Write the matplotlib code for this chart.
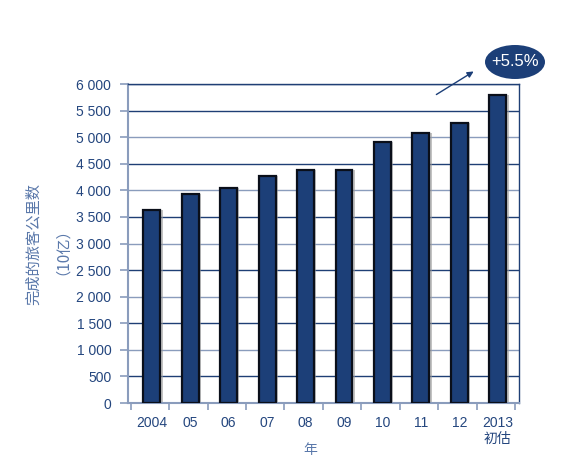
import matplotlib
matplotlib.use("Agg")
import matplotlib.pyplot as plt
from matplotlib.patches import Ellipse
import numpy as np

plt.rcParams['font.family'] = ['Liberation Sans', 'Noto Sans CJK SC', 'DejaVu Sans']

years = ["2004", "05", "06", "07", "08", "09", "10", "11", "12", "2013\n初估"]
values = [3640, 3930, 4040, 4280, 4390, 4380, 4910, 5080, 5260, 5800]
yticks = [0, 500, 1000, 1500, 2000, 2500, 3000, 3500, 4000, 4500, 5000, 5500, 6000]
ylabels = ["0", "500", "1 000", "1 500", "2 000", "2 500", "3 000", "3 500",
           "4 000", "4 500", "5 000", "5 500", "6 000"]
growth_label = "+5.5%"
ylabel = "完成的旅客公里数\n（10亿）"
xlabel = "年"

navy = "#1c3f78"
text_c = "#24467e"
axis_c = "#8a9cbc"

fig = plt.figure(figsize=(5.69, 4.57), dpi=100)
ax = fig.add_axes([0.225, 0.118, 0.687, 0.698])

x = np.arange(len(years))
# shadow
ax.bar(x + 0.06, values, width=0.44, color="#9a9a9a", alpha=0.6, zorder=2, linewidth=0)
ax.bar(x, values, width=0.44, color=navy, edgecolor="#0a0f1a", linewidth=1.6, zorder=3)

ax.set_ylim(0, 6000)
ax.set_xlim(-0.62, 9.55)
ax.set_yticks(yticks)
ax.set_yticklabels(ylabels)
for i, t in enumerate(yticks):
    if t == 0:
        continue
    col = "#1f3f75" if (t // 500) % 2 == 1 or t == 6000 else "#8a9cbc"
    ax.axhline(t, color=col, lw=1.0, zorder=1)

ax.set_xticks(x)
ax.set_xticklabels(years)
ax.set_xticks(np.arange(-0.55, 9.6, 1.0), minor=True)
ax.tick_params(axis='x', which='major', length=0, pad=9, labelsize=10, labelcolor=text_c)
ax.tick_params(axis='x', which='minor', length=5, color=axis_c, width=1.2, direction='out')
ax.tick_params(axis='y', length=6, color=axis_c, width=1.2, pad=6, labelsize=10, labelcolor=text_c)
for lab in ax.get_xticklabels():
    lab.set_linespacing(1.2)

for s in ["left", "bottom"]:
    ax.spines[s].set_color(axis_c)
    ax.spines[s].set_linewidth(1.5)
ax.spines["top"].set_color("#1f3f75")
ax.spines["right"].set_color("#1f3f75")
ax.spines["top"].set_linewidth(1.0)
ax.spines["right"].set_linewidth(1.0)

ax.set_ylabel(ylabel, family=['Noto Sans CJK SC', 'DejaVu Sans'], color="#5a78aa",
              fontsize=11, labelpad=10, linespacing=1.3)
fig.text(310 / 569, 1 - 450 / 457, xlabel, family=['Noto Sans CJK SC', 'DejaVu Sans'],
         color="#5a78aa", fontsize=10, ha="center", va="center")

# growth ellipse and arrow (figure coordinates)
ell = Ellipse((515 / 569, 1 - 62 / 457), 60 / 569, 34 / 457, transform=fig.transFigure,
              facecolor=navy, edgecolor="none", clip_on=False)
fig.patches.append(ell)
fig.text(515 / 569, 1 - 62 / 457, growth_label, color="white", fontsize=12,
         ha="center", va="center")
fig.add_artist(matplotlib.patches.FancyArrowPatch(
    (434 / 569, 1 - 96 / 457), (476 / 569, 1 - 70 / 457), transform=fig.transFigure,
    arrowstyle="-|>", mutation_scale=9, color=navy, lw=1.0))

fig.savefig("out.png", dpi=100)
